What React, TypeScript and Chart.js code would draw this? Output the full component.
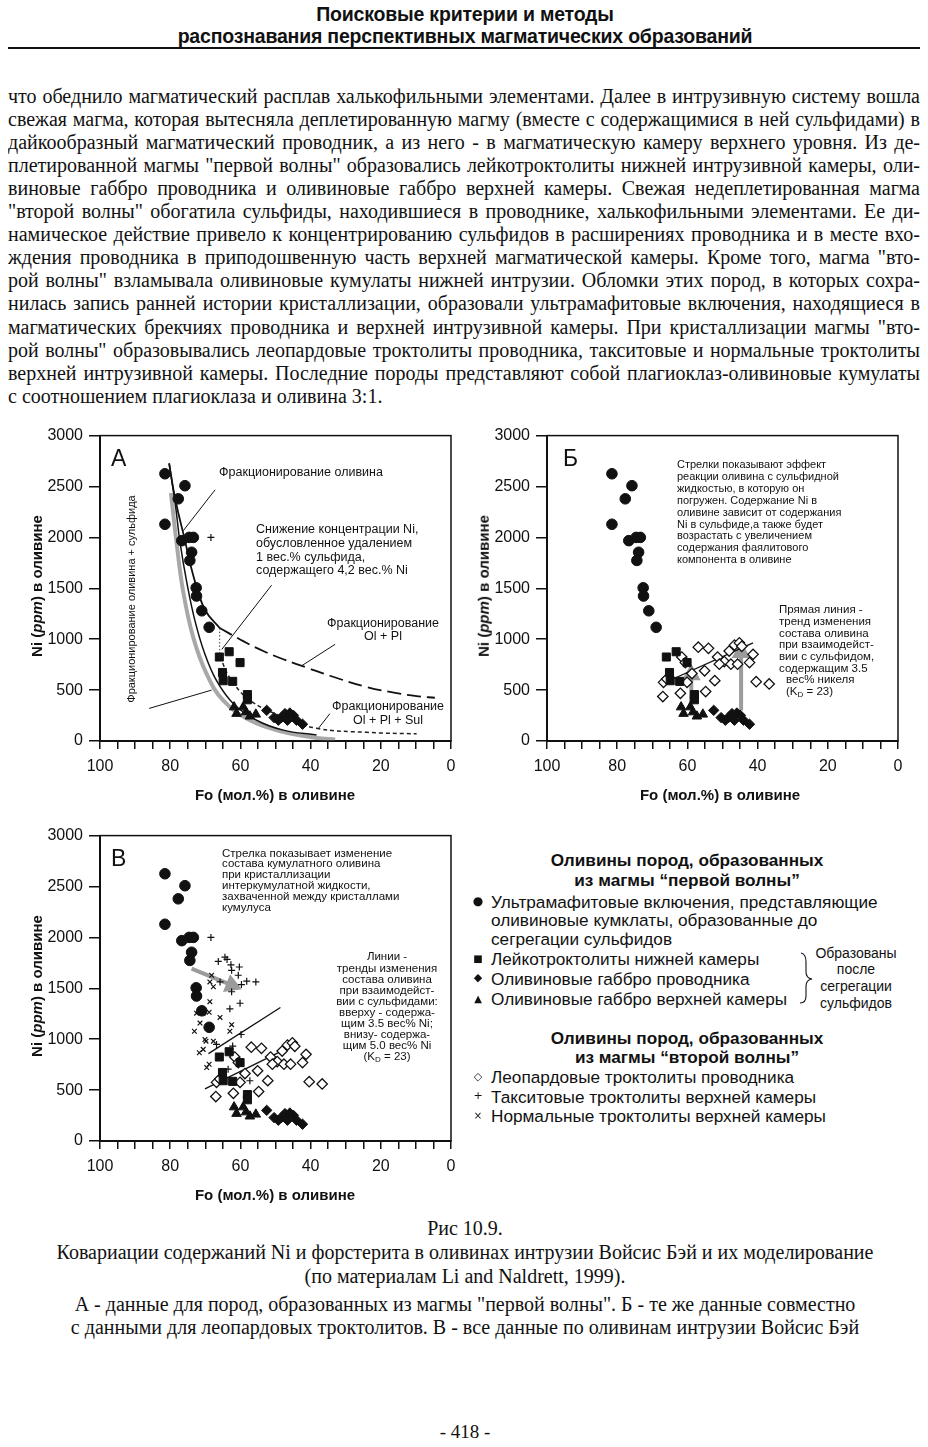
import React, { useEffect, useRef } from 'react';
import { Chart, registerables } from 'chart.js';
Chart.register(...registerables);

// ---------- axis ticks ----------
const X_LABELS = [100, 80, 60, 40, 20, 0];
const Y_STEP = 500;
const X_STEP = 5;

// ---------- data (Fo mol.%, Ni ppm) ----------
// Ultramafic inclusions (filled circles)
const circFo = [81.5, 75.8, 77.7, 81.5, 76.7, 74.6, 73.4, 73.9, 74.4, 72.6, 72.5, 71.0, 68.9];
const circNi = [2625, 2508, 2379, 2129, 1968, 2000, 2000, 1854, 1774, 1505, 1424, 1279, 1117];
// Leucotroctolites of lower chamber (squares)
const sqFo = [66.0, 63.2, 60.1, 65.1, 64.9, 62.2, 58.0, 58.0];
const sqNi = [825, 877, 770, 673, 592, 586, 456, 405];
// Olivine gabbro of conduit (filled diamonds)
const dmFo = [52.5, 50.4, 48.3, 47.3, 45.9, 44.9, 46.6, 44.0, 42.3, 49.2];
const dmNi = [301, 230, 230, 269, 275, 252, 204, 204, 165, 204];
// Olivine gabbro of upper chamber (triangles)
const trFo = [61.8, 59.2, 58.4, 57.3, 55.6, 61.1];
const trNi = [333, 333, 284, 243, 262, 269];
// Leopard troctolites (open diamonds)
const odFo = [56.9, 54.0, 51.4, 48.1, 46.6, 45.2, 44.5, 41.3, 42.3, 49.5, 47.6, 45.7, 50.9, 61.6, 60.6, 58.7, 55.1, 52.2, 66.8, 65.9, 60.1, 62.0, 54.8, 67.0, 40.4, 36.7];
const odNi = [922, 910, 825, 884, 942, 964, 930, 851, 770, 780, 755, 755, 755, 825, 770, 663, 690, 593, 576, 609, 576, 469, 486, 437, 583, 560];
// Taxitic troctolites (+)
const plFo = [68.4, 66.3, 64.4, 63.8, 62.7, 60.3, 62.5, 60.6, 65.8, 62.5, 59.7, 58.2, 55.6, 63.0, 60.1, 59.8, 62.2, 57.3, 63.5, 66.8];
const plNi = [2000, 1764, 1806, 1784, 1731, 1709, 1677, 1628, 1563, 1466, 1537, 1570, 1563, 1298, 1353, 1046, 932, 592, 706, 949];
// Normal troctolites (x)
const crFo = [73.1, 71.5, 70.6, 68.9, 72.5, 65.8, 62.5, 63.0, 70.1, 71.7, 69.8, 67.7, 70.6, 68.9, 69.6, 68.7, 68.7, 67.7, 68.2];
const crNi = [1078, 1158, 1256, 1265, 1256, 1214, 1143, 1078, 997, 867, 981, 981, 900, 754, 722, 1369, 1563, 1515, 1628];

// Model curves (panel A)
const olFracFo = [80.3, 79.0, 77.6, 76.0, 74.0, 72.0, 69.8, 65.9];
const olFracNi = [2728, 2453, 2227, 2000, 1700, 1460, 1270, 1110];
const olPlFo = [65.9, 59.2, 53.5, 47.8, 41.0, 34.5, 24.0, 15.5, 9.8, 4.6];
const olPlNi = [1110, 981, 884, 803, 720, 641, 530, 470, 440, 425];
const olSulFo = [80.3, 78.6, 77.2, 75.3, 72.9, 70.1, 66.8, 62.0, 55.4, 47.8, 38.3];
const olSulNi = [2728, 2340, 1952, 1563, 1175, 852, 592, 366, 204, 107, 58];
const olSulGrayFo = [79.8, 78.2, 76.3, 73.4, 69.6, 64.9, 57.3, 47.8, 38.3, 33.0];
const olSulGrayNi = [2437, 1952, 1466, 1013, 657, 398, 204, 90, 30, 15];
const olPlSulFo = [65.8, 63.0, 57.3, 47.8, 38.3, 24.0, 9.8];
const olPlSulNi = [830, 620, 400, 236, 125, 85, 70];
const dropFo = [65.9, 65.9];
const dropNi = [1110, 840];
// Leader lines (panel A)
const leadAFo = [[67.2, 76.3], [51.1, 65.3], [33.0, 42.5], [34.5, 37.8], [86.0, 68.2]];
const leadANi = [[2468, 2065], [1531, 900], [950, 740], [269, 123], [320, 500]];
// Panel Б trend line and arrows
const trendBFo = [67.3, 41.3];
const trendBNi = [560, 964];
const arrowBFo = [[58.9, 58.9], [44.7, 44.7]];
const arrowBNi = [[317, 650], [300, 870]];
// Panel В trend lines and arrow
const trendV1Fo = [69.1, 48.6];
const trendV1Ni = [858, 1311];
const trendV2Fo = [70.1, 44.4];
const trendV2Ni = [512, 949];
const arrowVFo = [73.9, 62.5];
const arrowVNi = [1693, 1531];

// ---------- page text ----------
const HEADER = ['Поисковые критерии и методы', 'распознавания перспективных магматических образований'];
const BODY_LINES = [
  'что обеднило магматический расплав халькофильными элементами. Далее в интрузивную систему вошла',
  'свежая магма, которая вытесняла деплетированную магму (вместе с содержащимися в ней сульфидами) в',
  'дайкообразный магматический проводник, а из него - в магматическую камеру верхнего уровня. Из де-',
  'плетированной магмы "первой волны" образовались лейкотроктолиты нижней интрузивной камеры, оли-',
  'виновые габбро проводника и оливиновые габбро верхней камеры. Свежая недеплетированная магма',
  '"второй волны" обогатила сульфиды, находившиеся в проводнике, халькофильными элементами. Ее ди-',
  'намическое действие привело к концентрированию сульфидов в расширениях проводника и в месте вхо-',
  'ждения проводника в приподошвенную часть верхней магматической камеры. Кроме того, магма "вто-',
  'рой волны" взламывала оливиновые кумулаты нижней интрузии. Обломки этих пород, в которых сохра-',
  'нилась запись ранней истории кристаллизации, образовали ультрамафитовые включения, находящиеся в',
  'магматических брекчиях проводника и верхней интрузивной камеры. При кристаллизации магмы "вто-',
  'рой волны" образовывались леопардовые троктолиты проводника, такситовые и нормальные троктолиты',
  'верхней интрузивной камеры. Последние породы представляют собой плагиоклаз-оливиновые кумулаты',
  'с соотношением плагиоклаза и оливина 3:1.',
];
const CAPTION_LINES = [
  'Рис 10.9.',
  'Ковариации содержаний Ni и форстерита в оливинах интрузии Войсис Бэй и их моделирование',
  '(по материалам Li and Naldrett, 1999).',
  'А - данные для пород, образованных из магмы "первой волны". Б - те же данные совместно',
  'с данными для леопардовых троктолитов. В - все данные по оливинам интрузии Войсис Бэй',
];
const CAPTION_Y = [1228, 1252.5, 1276, 1304, 1327.5];

const SANS = "'Liberation Sans', Arial, sans-serif";
const SERIF = "'Liberation Serif', 'Times New Roman', serif";
const INK = '#111';

const pts = (fo: number[], ni: number[]) => fo.map((x, i) => ({ x, y: ni[i] }));

const pointDs = (fo: number[], ni: number[], style: string, r: number, fill: string, bw = 1) => ({
  type: 'scatter', data: pts(fo, ni), pointStyle: style, pointRadius: r, pointHoverRadius: r,
  backgroundColor: fill, borderColor: INK, borderWidth: bw, order: 0,
});
const lineDs = (fo: number[], ni: number[], color: string, w: number, dash: number[] = [], order = 1, tension = 0.4) => ({
  type: 'line', data: pts(fo, ni), showLine: true, borderColor: color, borderWidth: w, borderDash: dash,
  pointRadius: 0, tension, fill: false, order, borderCapStyle: 'butt',
});
const arrowDs = (fo: number[], ni: number[], rot: number) => ({
  type: 'line', data: pts(fo, ni), showLine: true, borderColor: '#9b9b9b', borderWidth: 4,
  pointRadius: [0, 7], pointStyle: 'triangle', pointRotation: rot, backgroundColor: '#9b9b9b',
  pointBorderColor: '#9b9b9b', tension: 0, fill: false, order: 3,
});

const firstWaveDs = () => [
  pointDs(circFo, circNi, 'circle', 5.3, INK),
  pointDs(sqFo, sqNi, 'rect', 5.7, INK),
  pointDs(trFo, trNi, 'triangle', 5.5, INK),
  pointDs(dmFo, dmNi, 'rectRot', 5.2, INK),
];

const buildA = () => [
  ...firstWaveDs(),
  pointDs(plFo.slice(0, 1), plNi.slice(0, 1), 'cross', 3.5, INK, 1.2),
  lineDs(olSulGrayFo, olSulGrayNi, '#a8a8a8', 4, [], 3),
  lineDs(olSulFo, olSulNi, INK, 1.5),
  lineDs(olFracFo, olFracNi, INK, 1.8),
  lineDs(olPlFo, olPlNi, INK, 1.8, [14, 6]),
  lineDs(olPlSulFo, olPlSulNi, '#222', 1.5, [4, 3]),
  lineDs(dropFo, dropNi, '#444', 1, [1.5, 2]),
  ...leadAFo.map((f, i) => lineDs(f, leadANi[i], INK, 1, [], 1, 0)),
];
const buildB = () => [
  ...firstWaveDs(),
  pointDs(odFo, odNi, 'rectRot', 5.2, '#fff', 1.3),
  lineDs(trendBFo, trendBNi, INK, 1.3, [], 1, 0),
  ...arrowBFo.map((f, i) => arrowDs(f, arrowBNi[i], 0)),
];
const buildV = () => [
  ...firstWaveDs(),
  pointDs(odFo, odNi, 'rectRot', 5.2, '#fff', 1.3),
  pointDs(plFo, plNi, 'cross', 3.5, INK, 1.2),
  pointDs(crFo, crNi, 'crossRot', 3.3, INK, 1.2),
  lineDs(trendV1Fo, trendV1Ni, INK, 1.3, [], 1, 0),
  lineDs(trendV2Fo, trendV2Ni, INK, 1.3, [], 1, 0),
  arrowDs(arrowVFo, arrowVNi, 112),
];

const framePlugin = {
  id: 'frame',
  afterDraw(chart: any) {
    const { ctx, chartArea: a } = chart;
    ctx.save();
    ctx.strokeStyle = INK;
    ctx.lineWidth = 1.5;
    ctx.strokeRect(a.left, a.top, a.right - a.left, a.bottom - a.top);
    ctx.restore();
  },
};

const tickFont = { family: 'Liberation Sans', size: 16 };

const makeConfig = (datasets: any[]) => ({
  type: 'scatter',
  data: { datasets },
  options: {
    animation: false,
    responsive: false,
    devicePixelRatio: 1,
    events: [],
    layout: { padding: { top: 12, right: 14, left: 0, bottom: 0 } },
    plugins: { legend: { display: false }, tooltip: { enabled: false } },
    scales: {
      x: {
        type: 'linear', min: 0, max: 100, reverse: true,
        ticks: {
          stepSize: X_STEP, maxTicksLimit: 21, autoSkip: false, maxRotation: 0, padding: 8,
          color: INK, font: tickFont,
          callback: (v: number) => (X_LABELS.includes(v) ? String(v) : ''),
        },
        grid: { display: true, drawOnChartArea: false, drawTicks: true, tickLength: 8, color: INK, lineWidth: 1.5 },
        border: { display: true, color: INK, width: 2 },
        afterFit: (s: any) => { s.height = 69; },
      },
      y: {
        type: 'linear', min: 0, max: 3000,
        ticks: { stepSize: Y_STEP, padding: 6, color: INK, font: tickFont, callback: (v: number) => String(v) },
        grid: { display: true, drawOnChartArea: false, drawTicks: true, tickLength: 11, color: INK, lineWidth: 1.5 },
        border: { display: true, color: INK, width: 2 },
        afterFit: (s: any) => { s.width = 80; },
      },
    },
  },
  plugins: [framePlugin],
});

function Panel({ left, top, build }: { left: number; top: number; build: () => any[] }) {
  const ref = useRef<HTMLCanvasElement>(null);
  useEffect(() => {
    const chart = new Chart(ref.current as HTMLCanvasElement, makeConfig(build()) as any);
    return () => chart.destroy();
  }, []);
  return (
    <canvas ref={ref} width={445} height={390}
      style={{ position: 'absolute', left, top, width: 445, height: 390, display: 'block' }} />
  );
}

type TP = { x: number; y: number; size?: number; lh?: number; align?: 'left' | 'center'; bold?: boolean; font?: string; children: any; style?: any };
function T({ x, y, size = 12, lh, align = 'left', bold, font = SANS, children, style }: TP) {
  const L = lh ?? size * 1.15;
  return (
    <div style={{
      position: 'absolute', left: x, top: y - L / 2, fontSize: size, lineHeight: L + 'px', fontFamily: font,
      fontWeight: bold ? 'bold' : 'normal', whiteSpace: 'nowrap', color: INK, textAlign: align,
      transform: align === 'center' ? 'translateX(-50%)' : undefined, ...style,
    }}>{children}</div>
  );
}

function Rot({ x, y, size, bold, children }: { x: number; y: number; size: number; bold?: boolean; children: any }) {
  return (
    <div style={{
      position: 'absolute', left: x, top: y, fontSize: size, lineHeight: '1.1', fontFamily: SANS, whiteSpace: 'nowrap',
      fontWeight: bold ? 'bold' : 'normal', color: INK, transform: 'translate(-50%, -50%) rotate(-90deg)',
    }}>{children}</div>
  );
}

const lines = (arr: string[]) => arr.map((s, i) => <React.Fragment key={i}>{i > 0 && <br />}{s}</React.Fragment>);

const Kd = () => <>(K<sub style={{ fontSize: '0.7em', verticalAlign: '-0.25em' }}>D</sub> = 23)</>;

const YTitle = ({ x, y }: { x: number; y: number }) => (
  <Rot x={x} y={y} size={15} bold>Ni (<i>ppm</i>) в оливине</Rot>
);
const XTitle = ({ x, y }: { x: number; y: number }) => (
  <T x={x} y={y} size={15} bold align="center">Fo (мол.%) в оливине</T>
);

const GLYPH = "'DejaVu Sans', sans-serif";
const LEG = 17.2;
const LegendRow = ({ y, glyph, gsize, text }: { y: number; glyph: string; gsize: number; text: string }) => (
  <>
    <T x={478} y={y} size={gsize} align="center" font={GLYPH}>{glyph}</T>
    <T x={491} y={y} size={LEG} lh={20}>{text}</T>
  </>
);

export default function App() {
  return (
    <div style={{ position: 'absolute', left: 0, top: 0, width: 928, height: 1447, background: '#fff', overflow: 'hidden' }}>
      {/* header */}
      <T x={465} y={14} size={19.5} bold align="center" style={{ letterSpacing: '-0.2px' }}>{HEADER[0]}</T>
      <T x={465} y={36} size={19.5} bold align="center" style={{ letterSpacing: '-0.2px' }}>{HEADER[1]}</T>
      <div style={{ position: 'absolute', left: 8, top: 47, width: 912, height: 2, background: INK }} />

      {/* body text */}
      {BODY_LINES.map((s, i) => (
        <div key={i} style={{
          position: 'absolute', left: 8, top: 96 + i * 23.1 - 11.5, width: 912, height: 23,
          overflow: 'hidden', fontFamily: SERIF, fontSize: 20, lineHeight: '23px', color: INK,
          textAlign: 'justify', textAlignLast: i === BODY_LINES.length - 1 ? 'left' : 'justify',
        }}>{s}</div>
      ))}

      {/* charts */}
      <Panel left={20} top={420} build={buildA} />
      <Panel left={467} top={420} build={buildB} />
      <Panel left={20} top={820} build={buildV} />

      {/* axis titles */}
      <YTitle x={37} y={586} />
      <YTitle x={484} y={586} />
      <YTitle x={37} y={986} />
      <XTitle x={275} y={795} />
      <XTitle x={720} y={795} />
      <XTitle x={275} y={1195} />

      {/* panel A annotations */}
      <T x={111} y={458} size={23}>А</T>
      <T x={219} y={472} size={12.5}>Фракционирование оливина</T>
      <T x={256} y={530} size={12.5} lh={13.7}>{lines(['Снижение концентрации Ni,', 'обусловленное удалением', '1 вес.% сульфида,', 'содержащего 4,2 вес.% Ni'])}</T>
      <T x={383} y={623} size={12.5} lh={13} align="center">{lines(['Фракционирование', 'Ol + Pl'])}</T>
      <T x={388} y={707} size={12.5} lh={13.5} align="center">{lines(['Фракционирование', 'Ol + Pl + Sul'])}</T>
      <Rot x={131} y={599} size={11}>Фракционирование оливина + сульфида</Rot>

      {/* panel Б annotations */}
      <T x={563} y={458} size={23}>Б</T>
      <T x={677} y={465} size={11} lh={11.9}>{lines([
        'Стрелки показывают эффект', 'реакции оливина с сульфидной', 'жидкостью, в которую он',
        'погружен. Содержание Ni в', 'оливине зависит от содержания', 'Ni в сульфиде,а также будет',
        'возрастать с увеличением', 'содержания фаялитового', 'компонента в оливине'])}</T>
      <T x={779} y={610} size={11.5} lh={11.7}>
        {lines(['Прямая линия -', 'тренд изменения', 'состава оливина', 'при взаимодейст-', 'вии с сульфидом,', 'содержащим 3.5'])}
        <br /><span style={{ marginLeft: 7 }}>вес% никеля</span>
        <br /><span style={{ marginLeft: 7 }}><Kd /></span>
      </T>

      {/* panel В annotations */}
      <T x={111} y={858} size={23}>В</T>
      <T x={222} y={853} size={11.5} lh={10.9}>{lines([
        'Стрелка показывает изменение', 'состава кумулатного оливина', 'при кристаллизации',
        'интеркумулатной жидкости,', 'захваченной между кристаллами', 'кумулуса'])}</T>
      <T x={387} y={957} size={11.5} lh={11.1} align="center">
        {lines(['Линии -', 'тренды изменения', 'состава оливина', 'при взаимодейст-', 'вии с сульфидами:',
          'вверху - содержа-', 'щим 3.5 вес% Ni;', 'внизу- содержа-', 'щим 5.0 вес% Ni'])}
        <br /><Kd />
      </T>

      {/* legend */}
      <T x={687} y={861} size={LEG} bold align="center">Оливины пород, образованных</T>
      <T x={687} y={881} size={LEG} bold align="center">из магмы “первой волны”</T>
      <LegendRow y={901.5} glyph="●" gsize={12} text="Ультрамафитовые включения, представляющие" />
      <T x={491} y={920} size={LEG} lh={20}>оливиновые кумклаты, образованные до</T>
      <T x={491} y={938.5} size={LEG} lh={20}>сегрегации сульфидов</T>
      <LegendRow y={958.5} glyph="■" gsize={10} text="Лейкотроктолиты нижней камеры" />
      <LegendRow y={978.5} glyph="◆" gsize={11} text="Оливиновые габбро проводника" />
      <LegendRow y={998.5} glyph="▲" gsize={10} text="Оливиновые габбро верхней  камеры" />
      <svg style={{ position: 'absolute', left: 798, top: 950, width: 20, height: 56 }} viewBox="0 0 20 56">
        <path d="M3 3 Q8 4 8 12 L8 22 Q8 28 14 29 Q8 30 8 36 L8 46 Q8 53 2 53" fill="none" stroke={INK} strokeWidth="1.1" />
      </svg>
      <T x={856} y={953} size={14} lh={16.7} align="center">{lines(['Образованы', 'после', 'сегрегации', 'сульфидов'])}</T>

      <T x={687} y={1038.5} size={LEG} bold align="center">Оливины пород, образованных</T>
      <T x={687} y={1057.5} size={LEG} bold align="center">из магмы “второй волны”</T>
      <LegendRow y={1077} glyph="◇" gsize={11} text="Леопардовые троктолиты проводника" />
      <LegendRow y={1096.5} glyph="+" gsize={11} text="Такситовые троктолиты верхней камеры" />
      <LegendRow y={1116} glyph="×" gsize={10} text="Нормальные троктолиты верхней камеры" />

      {/* caption */}
      {CAPTION_LINES.map((s, i) => (
        <T key={i} x={465} y={CAPTION_Y[i]} size={20} lh={23} align="center" font={SERIF}>{s}</T>
      ))}
      <T x={465} y={1432} size={19} lh={22} align="center" font={SERIF}>- 418 -</T>
    </div>
  );
}
